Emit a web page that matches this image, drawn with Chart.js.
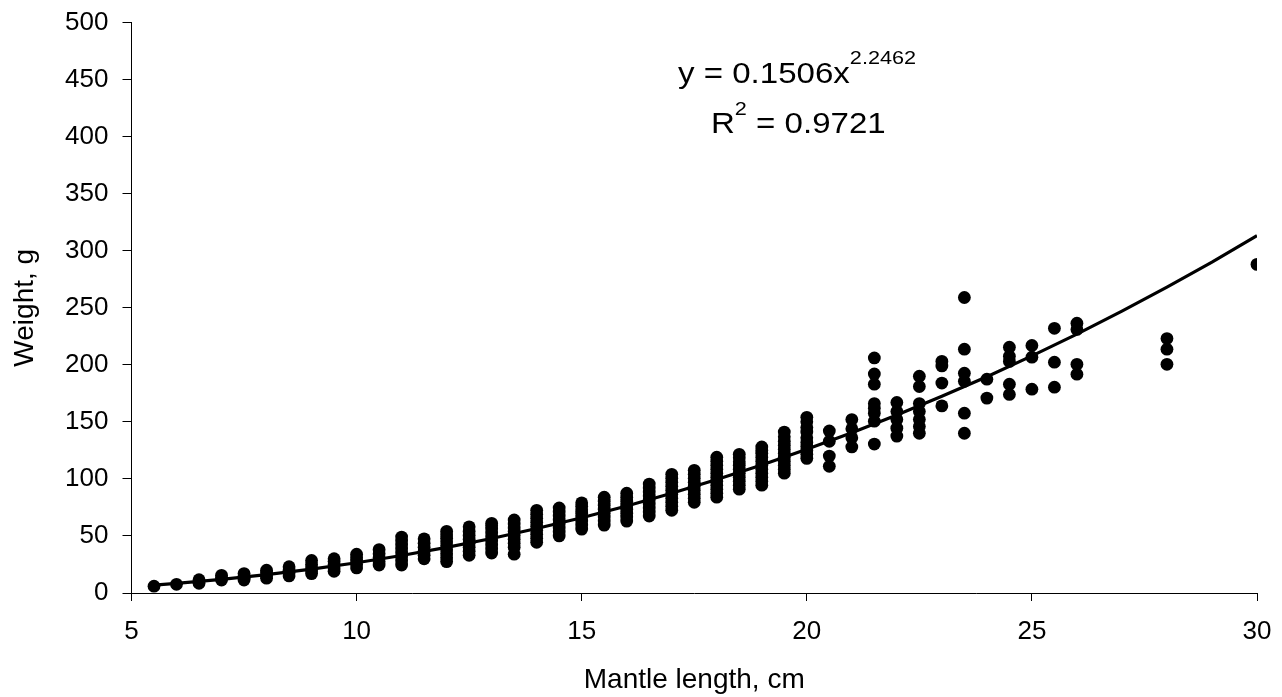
<!DOCTYPE html>
<html>
<head>
<meta charset="utf-8">
<script src="https://cdn.jsdelivr.net/npm/chart.js@4.4.1/dist/chart.umd.min.js"></script>
<style>
  html, body { margin: 0; padding: 0; background: #fff; }
  #wrap { width: 1282px; height: 697px; }
</style>
</head>
<body>
<div id="wrap"><canvas id="pesoChart" width="1282" height="697"></canvas></div>
<script>
// comprimento do manto (cm) de cada coluna de pontos
const lengthCm = [5.5, 6, 6.5, 7, 7.5, 8, 8.5, 9, 9.5, 10, 10.5, 11, 11.5, 12, 12.5, 13, 13.5, 14, 14.5, 15,
    15.5, 16, 16.5, 17, 17.5, 18, 18.5, 19, 19.5, 20, 20.5, 21, 21.5, 22, 22.5, 23, 23.5, 24, 24.5, 25,
    25.5, 26, 28, 30];

// pesos (g) lidos em cada coluna
const weightG = [
    [6],
    [7.6],
    [8.5, 10, 11.6],
    [11.4, 13.5, 15.5],
    [11.4, 13, 15, 17],
    [13, 15, 17.5, 20],
    [15, 17.5, 20, 23],
    [17, 19.5, 22, 25, 28.5],
    [19, 22, 25, 27.5, 30],
    [22, 25, 28, 31, 34],
    [24.5, 27.5, 31, 34.5, 38],
    [24.5, 28, 31.5, 35, 38.5, 42, 45.5, 49],
    [30, 33, 36.5, 40, 43.5, 47.5],
    [27.5, 31, 34.5, 38, 41.5, 45, 48, 51, 54],
    [33, 36.5, 40, 43.5, 47, 50.5, 54, 58],
    [35, 38.5, 42, 45.5, 49, 52.5, 56, 59, 61],
    [34, 40, 43.5, 47, 50.5, 54, 57, 60.5, 64],
    [44.5, 48, 51.5, 55, 58.5, 62, 65.5, 69, 72.5],
    [50, 53.5, 57, 60.5, 64, 67.5, 71, 74.5],
    [56, 59.5, 63, 66.5, 70, 73, 76, 79],
    [59.5, 63, 66.5, 70, 73.5, 77, 80.5, 84],
    [63, 66.5, 70, 73.5, 77, 80.5, 84, 87.5],
    [67.5, 71, 74.5, 78, 81.5, 85, 88.5, 92, 95.5],
    [72.5, 76, 79.5, 83, 86.5, 90, 93.5, 97, 100.5, 104],
    [79.5, 83, 86.5, 90, 93.5, 97, 100.5, 104, 107.5],
    [84, 87.5, 91, 94.5, 98, 101.5, 105, 108.5, 112, 115.5, 119],
    [91, 94.5, 98, 101.5, 105, 108.5, 112, 115, 118.5, 121.5],
    [94.5, 98, 101.5, 105, 108.5, 112, 115.5, 119, 122.5, 125, 128],
    [105, 108.5, 112, 115.5, 119, 122.5, 126, 129.5, 133, 137, 141],
    [118, 121.5, 125, 128.5, 132, 136, 141, 145, 150, 154],
    [111, 120, 133, 142],
    [128, 136, 144, 152],
    [130.5, 150.6, 157.6, 162, 166, 183, 192, 206],
    [137.5, 144.5, 152, 159, 167],
    [140, 146, 152, 159, 166, 181, 190],
    [164, 184, 199, 203],
    [140, 157.6, 185.6, 192.6, 213.7, 259],
    [170.8, 187.4],
    [174, 183, 203, 207.5, 215.4],
    [178.6, 206.7, 217],
    [180.4, 202.3, 232],
    [191.8, 200.4, 231, 236.4],
    [200.4, 213.7, 223],
    [288]
];

// linha de tendência (potência)
const trendLengthCm = [5.5, 6, 7, 8, 9, 10, 11, 12, 13, 14, 15, 16, 17, 18, 19, 20, 21, 22, 23, 24, 25, 26, 27, 28, 29, 30];
const trendWeightG = [6.9, 8.4, 11.9, 16.1, 20.9, 26.5, 32.9, 40.0, 47.8, 56.5, 66.0, 76.3, 87.4, 99.4, 112.2, 125.9,
    140.5, 156.0, 172.4, 189.6, 207.8, 226.9, 247.0, 268.1, 290.0, 313.1];

const xTicks = [5, 10, 15, 20, 25, 30];
const yTicks = [0, 50, 100, 150, 200, 250, 300, 350, 400, 450, 500];

const FONTE = "'Liberation Sans', Arial, sans-serif";

const pontos = [];
lengthCm.forEach((x, i) => {
    weightG[i].forEach(y => pontos.push({ x, y }));
});
const tendencia = trendLengthCm.map((x, i) => ({ x, y: trendWeightG[i] }));

// texto da equação com expoentes
const equacaoPlugin = {
    id: 'equacao',
    afterDraw(chart) {
        const ctx = chart.ctx;
        const big = '29px ' + FONTE;
        const small = '19px ' + FONTE;
        ctx.save();
        ctx.fillStyle = '#000';
        ctx.textBaseline = 'alphabetic';
        ctx.textAlign = 'left';

        ctx.save();
        ctx.translate(678, 83);
        ctx.scale(1.14, 1);
        ctx.font = big;
        ctx.fillText('y = 0.1506x', 0, 0);
        let w = ctx.measureText('y = 0.1506x').width;
        ctx.font = small;
        ctx.fillText('2.2462', w, -19);
        ctx.restore();

        ctx.save();
        ctx.translate(711, 133);
        ctx.scale(1.14, 1);
        ctx.font = big;
        ctx.fillText('R', 0, 0);
        w = ctx.measureText('R').width;
        ctx.font = small;
        ctx.fillText('2', w, -18);
        w += ctx.measureText('2').width;
        ctx.font = big;
        ctx.fillText(' = 0.9721', w, 0);
        ctx.restore();

        ctx.restore();
    }
};

Chart.defaults.color = '#000';
Chart.defaults.font.family = FONTE;

const ctx = document.getElementById('pesoChart').getContext('2d');
window.pesoChart = new Chart(ctx, {
    type: 'scatter',
    data: {
        datasets: [
            {
                label: 'Peso',
                data: pontos,
                backgroundColor: '#000',
                borderWidth: 0,
                pointRadius: 6.4,
                pointHoverRadius: 6.4,
                order: 2
            },
            {
                type: 'line',
                label: 'Tendência',
                data: tendencia,
                borderColor: '#000',
                borderWidth: 3.2,
                pointRadius: 0,
                fill: false,
                tension: 0,
                order: 1
            }
        ]
    },
    options: {
        responsive: false,
        animation: false,
        layout: { padding: { top: 22.5, right: 25, left: 0, bottom: 0 } },
        plugins: {
            legend: { display: false },
            tooltip: { enabled: false }
        },
        scales: {
            x: {
                type: 'linear',
                min: 5,
                max: 30,
                afterBuildTicks: (scale) => { scale.ticks = xTicks.map(v => ({ value: v })); },
                afterFit: (scale) => {
                    scale.height = 104;
                    scale.paddingLeft = 0;
                    scale.paddingRight = 0;
                },
                grid: { drawOnChartArea: false, drawTicks: true, tickLength: 8, color: '#000' },
                border: { color: '#000', width: 1 },
                ticks: { font: { size: 26 }, padding: 15, maxRotation: 0 },
                title: { display: true, text: 'Mantle length, cm', font: { size: 28 }, padding: { top: 3, bottom: 0 } }
            },
            y: {
                min: 0,
                max: 500,
                afterBuildTicks: (scale) => { scale.ticks = yTicks.map(v => ({ value: v })); },
                afterFit: (scale) => {
                    scale.width = 131.5;
                    scale.paddingTop = 0;
                    scale.paddingBottom = 0;
                },
                grid: { drawOnChartArea: false, drawTicks: true, tickLength: 9, color: '#000' },
                border: { color: '#000', width: 1 },
                ticks: { font: { size: 26 }, padding: 14 },
                title: { display: true, text: 'Weight, g', font: { size: 28 }, padding: { top: 8, bottom: 0 } }
            }
        }
    },
    plugins: [equacaoPlugin]
});
</script>
</body>
</html>
